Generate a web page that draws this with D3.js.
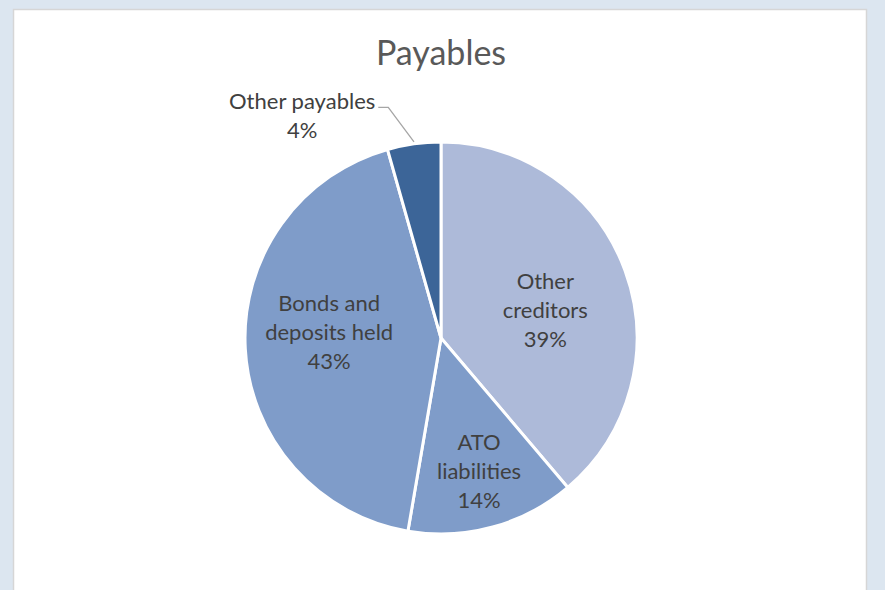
<!DOCTYPE html>
<html>
<head>
<meta charset="utf-8">
<script src="https://cdn.jsdelivr.net/npm/d3@7"></script>
<style>
  body { margin: 0; background: #dce6f0; }
  svg { display: block; }
</style>
</head>
<body>
<div id="chart"></div>
<script>
// DATA
const categories = ["Other creditors", "ATO liabilities", "Bonds and deposits held", "Other payables"];
const labelLines = [["Other", "creditors"], ["ATO", "liabilities"], ["Bonds and", "deposits held"], ["Other payables"]];
const shares = [38.8, 13.9, 42.9, 4.4];
const pctLabels = ["39%", "14%", "43%", "4%"];

// STYLE / LAYOUT
const WIDTH = 885, HEIGHT = 590;
const COLORS = ["#adbad9", "#7f9cc9", "#7f9cc9", "#3c6598"];
const CX = 441, CY = 338, R = 196;
// label placement: [angle in degrees clockwise from top, distance from centre]
const LABEL_POS = [[75, 108], [164, 138], [273, 112], [328, 262]];

const svg = d3
  .select("#chart")
  .append("svg")
  .attr("width", WIDTH)
  .attr("height", HEIGHT);

// PANEL
svg
  .append("rect")
  .attr("x", 13.5)
  .attr("y", 9.5)
  .attr("width", 853)
  .attr("height", 600)
  .attr("fill", "#ffffff")
  .attr("stroke", "#d6d6d6")
  .attr("stroke-width", 1.5);

// TITLE
svg
  .append("text")
  .attr("x", CX)
  .attr("y", 65)
  .attr("text-anchor", "middle")
  .attr("font-family", "Lato, 'Open Sans', sans-serif")
  .attr("font-size", "34px")
  .style("fill", "#595959")
  .text("Payables");

const data = categories.map((c, i) => ({ name: c, value: shares[i], i: i }));

const pie = d3.pie().sort(null).value((d) => d.value);
const arc = d3.arc().innerRadius(0).outerRadius(R);

const g = svg.append("g").attr("transform", `translate(${CX}, ${CY})`);
const arcs = pie(data);

g.selectAll("path")
  .data(arcs)
  .enter()
  .append("path")
  .attr("d", arc)
  .attr("fill", (d) => COLORS[d.data.i])
  .attr("stroke", "#ffffff")
  .attr("stroke-width", 3)
  .attr("stroke-linejoin", "round");

// LABELS
const lineH = 29;
arcs.forEach((d) => {
  const i = d.data.i;
  const a = (LABEL_POS[i][0] * Math.PI) / 180;
  const lx = LABEL_POS[i][1] * Math.sin(a);
  const ly = -LABEL_POS[i][1] * Math.cos(a);
  const lines = labelLines[i].concat([pctLabels[i]]);
  const t = g
    .append("text")
    .attr("text-anchor", "middle")
    .attr("font-family", "Lato, 'Open Sans', sans-serif")
    .attr("font-size", "22px")
    .style("fill", "#404040");
  lines.forEach((l, k) => {
    t.append("tspan")
      .attr("x", lx)
      .attr("y", ly + (k - (lines.length - 1) / 2) * lineH + 8)
      .text(l);
  });

  // leader line for the small outside label
  if (LABEL_POS[i][1] > R) {
    const mid = (d.startAngle + d.endAngle) / 2;
    const px = R * Math.sin(mid), py = -R * Math.cos(mid);
    const firstY = ly - ((lines.length - 1) / 2) * lineH + 6;
    const textRight = lx + t.select("tspan").node().getComputedTextLength() / 2;
    g.append("polyline")
      .attr("points", [
        [textRight + 3, firstY],
        [textRight + 13, firstY],
        [px, py - 2],
      ].map((p) => p.join(",")).join(" "))
      .attr("fill", "none")
      .attr("stroke", "#a6a6a6")
      .attr("stroke-width", 1.3);
  }
});
</script>
</body>
</html>
